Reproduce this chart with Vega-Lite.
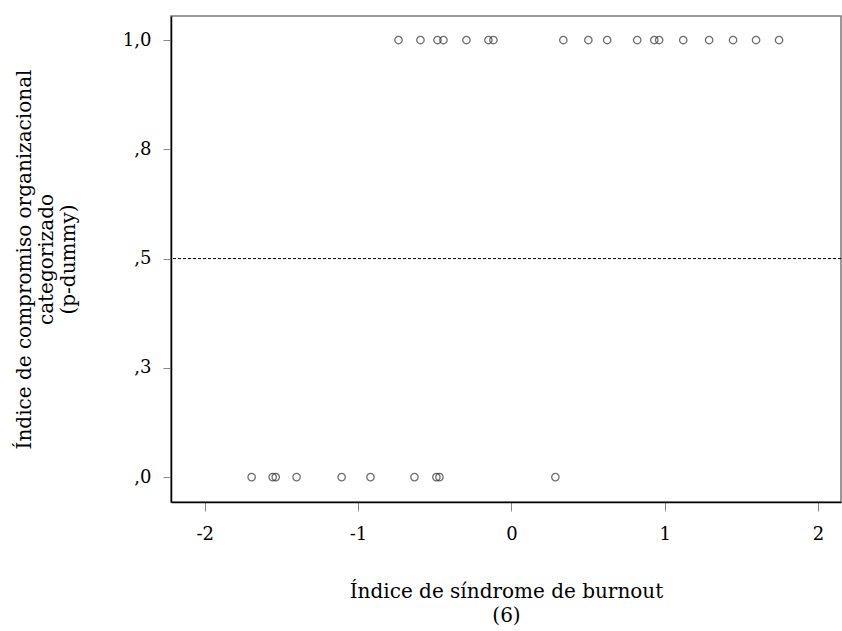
{
  "$schema": "https://vega.github.io/schema/vega-lite/v6.json",
  "autosize": {"type": "none"},
  "padding": {"left": 171, "top": 16, "right": 1, "bottom": 129},
  "width": 670,
  "height": 486,
  "background": "white",
  "config": {
    "view": {"stroke": "#777", "strokeWidth": 1.5},
    "font": "DejaVu Serif"
  },
  "datasets": {
    "pts": [
      {"burnout": -0.736, "compromiso": 1},
      {"burnout": -0.593, "compromiso": 1},
      {"burnout": -0.482, "compromiso": 1},
      {"burnout": -0.443, "compromiso": 1},
      {"burnout": -0.293, "compromiso": 1},
      {"burnout": -0.150, "compromiso": 1},
      {"burnout": -0.117, "compromiso": 1},
      {"burnout": 0.339, "compromiso": 1},
      {"burnout": 0.502, "compromiso": 1},
      {"burnout": 0.625, "compromiso": 1},
      {"burnout": 0.821, "compromiso": 1},
      {"burnout": 0.932, "compromiso": 1},
      {"burnout": 0.964, "compromiso": 1},
      {"burnout": 1.121, "compromiso": 1},
      {"burnout": 1.290, "compromiso": 1},
      {"burnout": 1.446, "compromiso": 1},
      {"burnout": 1.596, "compromiso": 1},
      {"burnout": 1.746, "compromiso": 1},
      {"burnout": -1.694, "compromiso": 0},
      {"burnout": -1.557, "compromiso": 0},
      {"burnout": -1.537, "compromiso": 0},
      {"burnout": -1.401, "compromiso": 0},
      {"burnout": -1.107, "compromiso": 0},
      {"burnout": -0.919, "compromiso": 0},
      {"burnout": -0.632, "compromiso": 0},
      {"burnout": -0.489, "compromiso": 0},
      {"burnout": -0.469, "compromiso": 0},
      {"burnout": 0.287, "compromiso": 0}
    ],
    "ref": [{"corte": 0.5}]
  },
  "layer": [
    {
      "data": {"name": "ref"},
      "mark": {"type": "rule", "color": "#000", "strokeWidth": 1, "strokeDash": [3, 2]},
      "encoding": {
        "y": {"field": "corte", "type": "quantitative", "scale": {"domain": [-0.057, 1.055], "nice": false, "zero": false}}
      }
    },
    {
      "data": {"name": "pts"},
      "mark": {"type": "point", "shape": "circle", "filled": false, "size": 55, "strokeWidth": 1.3, "color": "#333"},
      "encoding": {
        "x": {
          "field": "burnout", "type": "quantitative",
          "scale": {"domain": [-2.22, 2.15], "nice": false, "zero": false},
          "axis": {
            "values": [-2, -1, 0, 1, 2],
            "labelExpr": "datum.value < 0 ? '-' + abs(datum.value) : '' + datum.value",
            "title": ["Índice de síndrome de burnout", "(6)"],
            "titleFont": "DejaVu Serif", "titleFontSize": 20, "titleFontWeight": "normal", "titleColor": "#000",
            "titlePadding": 38, "titleLineHeight": 24,
            "labelFont": "DejaVu Serif", "labelFontSize": 18, "labelColor": "#000", "labelPadding": 14,
            "domainColor": "#000", "domainWidth": 1.5,
            "tickColor": "#888", "tickSize": 9, "tickWidth": 1,
            "grid": false
          }
        },
        "y": {
          "field": "compromiso", "type": "quantitative",
          "scale": {"domain": [-0.057, 1.055], "nice": false, "zero": false},
          "axis": {
            "values": [0, 0.25, 0.5, 0.75, 1],
            "labelExpr": "datum.value == 1 ? '1,0' : datum.value == 0.75 ? ',8' : datum.value == 0.5 ? ',5' : datum.value == 0.25 ? ',3' : ',0'",
            "title": ["Índice de compromiso organizacional", "categorizado", "(p-dummy)"],
            "titleFont": "DejaVu Serif", "titleFontSize": 20, "titleFontWeight": "normal", "titleColor": "#000",
            "titlePadding": 44, "titleLineHeight": 22,
            "labelFont": "DejaVu Serif", "labelFontSize": 18, "labelColor": "#000", "labelPadding": 12,
            "domainColor": "#000", "domainWidth": 1.5,
            "tickColor": "#888", "tickSize": 8, "tickWidth": 1,
            "grid": false
          }
        }
      }
    }
  ]
}
